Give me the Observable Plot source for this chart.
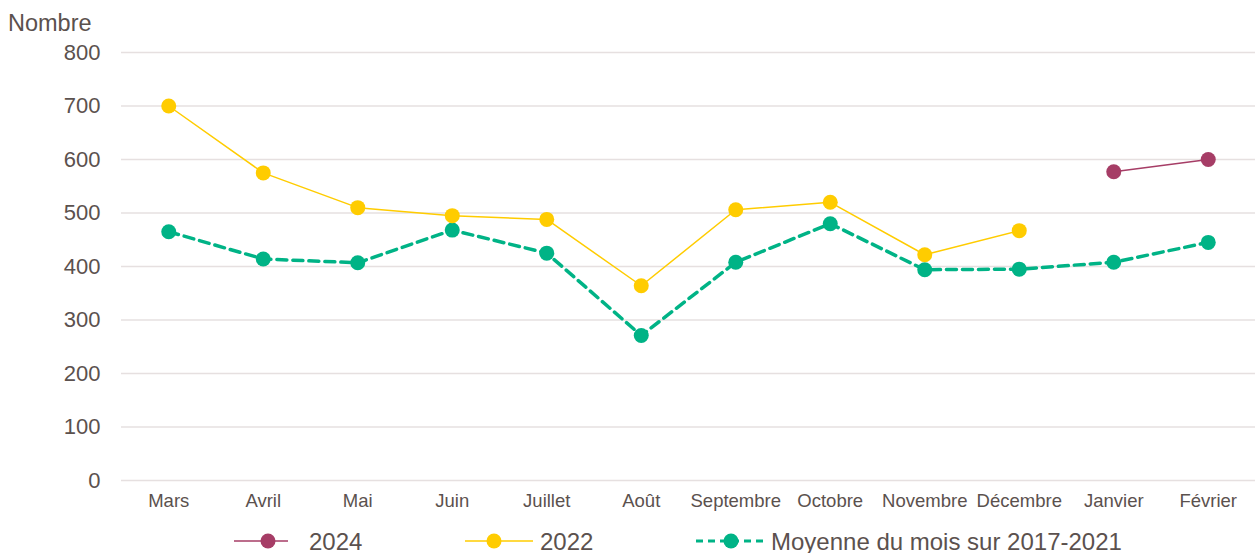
<!DOCTYPE html>
<html>
<head>
<meta charset="utf-8">
<script src="https://cdn.jsdelivr.net/npm/d3@7"></script>
<script src="https://cdn.jsdelivr.net/npm/@observablehq/plot@0.6"></script>
<style>
  html, body { margin: 0; padding: 0; background: #fff; }
  body { width: 1255px; height: 553px; overflow: hidden; font-family: "Liberation Sans", Arial, sans-serif; }
  #legend { position: relative; height: 33px; width: 1255px; }
</style>
</head>
<body>
<div id="chart"></div>
<div id="legend"></div>
<script>
const months = ["Mars","Avril","Mai","Juin","Juillet","Août","Septembre","Octobre","Novembre","Décembre","Janvier","Février"];
const values2022 = [700, 575, 510, 495, 488, 364, 506, 520, 422, 467, null, null];
const valuesAvg = [465, 414, 407, 468, 425, 271, 408, 480, 394, 395, 408, 445];
const values2024 = [null, null, null, null, null, null, null, null, null, null, 577, 600];
const seriesNames = ["2024", "2022", "Moyenne du mois sur 2017-2021"];
const colors = ["#A63D66", "#FFCC00", "#00B386"];
const yTicks = [0, 100, 200, 300, 400, 500, 600, 700, 800];

const toRows = (vals) => months.map((m, i) => ({month: m, value: vals[i]})).filter(d => d.value != null);
const d2022 = toRows(values2022);
const dAvg = toRows(valuesAvg);
const d2024 = toRows(values2024);

const textColor = "#5b514e";
const font = "Liberation Sans, Arial, sans-serif";

const chart = Plot.plot({
  width: 1255,
  height: 520,
  marginTop: 52,
  marginBottom: 40,
  marginLeft: 121,
  marginRight: 0,
  style: {fontFamily: font, color: textColor, background: "#fff"},
  x: {type: "point", domain: months, padding: 0.5, round: false, label: null},
  y: {domain: [0, 800], ticks: yTicks, label: null},
  marks: [
    Plot.gridY(yTicks, {stroke: "#e6e0e0", strokeOpacity: 1, strokeWidth: 1.5}),
    Plot.axisY(yTicks, {tickSize: 0, tickPadding: 21, fontSize: 22, fill: textColor, label: null}),
    Plot.axisX({tickSize: 0, tickPadding: 13, fontSize: 18.5, fill: textColor, label: null}),
    Plot.line(dAvg, {x: "month", y: "value", stroke: colors[2], strokeWidth: 3.5, strokeDasharray: "10,6"}),
    Plot.line(d2022, {x: "month", y: "value", stroke: colors[1], strokeWidth: 1.5}),
    Plot.line(d2024, {x: "month", y: "value", stroke: colors[0], strokeWidth: 1.5}),
    Plot.dot(dAvg, {x: "month", y: "value", r: 7.5, fill: colors[2]}),
    Plot.dot(d2022, {x: "month", y: "value", r: 7.5, fill: colors[1]}),
    Plot.dot(d2024, {x: "month", y: "value", r: 7.5, fill: colors[0]})
  ]
});
document.getElementById("chart").appendChild(chart);

d3.select(chart).append("text")
  .attr("x", 8).attr("y", 31)
  .attr("text-anchor", "start")
  .attr("font-size", 23.5)
  .attr("fill", textColor)
  .attr("font-family", font)
  .text("Nombre");

// Legend
const legend = d3.select("#legend").append("svg").attr("width", 1255).attr("height", 33);
const items = [
  {name: seriesNames[0], color: colors[0], x1: 234, x2: 288, cx: 268, tx: 309, w: 1.5, dash: null},
  {name: seriesNames[1], color: colors[1], x1: 465, x2: 533, cx: 494, tx: 540, w: 1.5, dash: null},
  {name: seriesNames[2], color: colors[2], x1: 696, x2: 763, cx: 731, tx: 771, w: 3, dash: "7,5"}
];
const g = legend.selectAll("g").data(items).join("g");
g.append("line").attr("x1", d => d.x1).attr("x2", d => d.x2).attr("y1", 21).attr("y2", 21)
  .attr("stroke", d => d.color).attr("stroke-width", d => d.w).attr("stroke-dasharray", d => d.dash);
g.append("circle").attr("cx", d => d.cx).attr("cy", 21).attr("r", 7.5).attr("fill", d => d.color);
g.append("text").attr("x", d => d.tx).attr("y", 29.5).attr("font-size", 24).attr("text-anchor", "start")
  .attr("fill", textColor).attr("font-family", font).text(d => d.name);
</script>
</body>
</html>
